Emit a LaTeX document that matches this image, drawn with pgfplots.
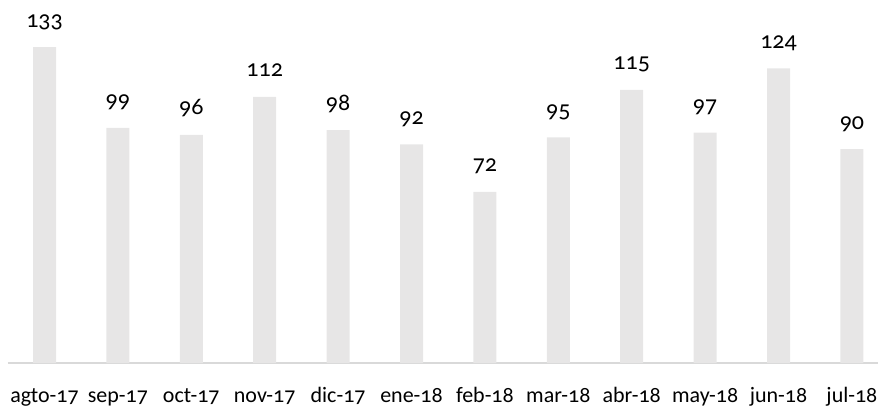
\documentclass[border=0pt]{standalone}
\usepackage{pgfplots}
\pgfplotsset{compat=1.18}
\usepackage{fontspec}
\setmainfont[Numbers=OldStyle]{Carlito}
\definecolor{barc}{HTML}{E7E6E6}
\definecolor{basec}{HTML}{D9D9D9}
\begin{document}
\begin{tikzpicture}[x=0.75pt,y=0.75pt]
\begin{axis}[
  scale only axis,
  width=652.5pt, height=272.25pt,
  at={(0,0)}, anchor=south west,
  xmin=-0.5, xmax=11.355,
  ymin=0, ymax=152.8,
  axis y line=none,
  axis x line*=bottom,
  x axis line style={basec, line width=1.5pt, -},
  xtick={0,...,11},
  xticklabels={agto-17,sep-17,oct-17,nov-17,dic-17,ene-18,feb-18,mar-18,abr-18,may-18,jun-18,jul-18},
  xtick style={draw=none},
  xticklabel style={font=\fontsize{16.5}{19}\selectfont, anchor=base, yshift=-25.3pt},
  ybar, bar width=17.25pt,
  nodes near coords,
  every node near coord/.append style={font=\fontsize{18}{21}\selectfont, anchor=base, yshift=15pt, text=black},
  /pgf/number format/assume math mode=true,
  clip=false,
]
\addplot[fill=barc, draw=none, bar shift=0pt] coordinates {
(0,133) (1,99) (2,96) (3,112) (4,98) (5,92) (6,72) (7,95) (8,115) (9,97) (10,124) (11,90)};
\end{axis}
\pgfresetboundingbox
\path (-5.85pt,-33pt) rectangle (652.5pt,272.25pt);
\end{tikzpicture}
\end{document}
